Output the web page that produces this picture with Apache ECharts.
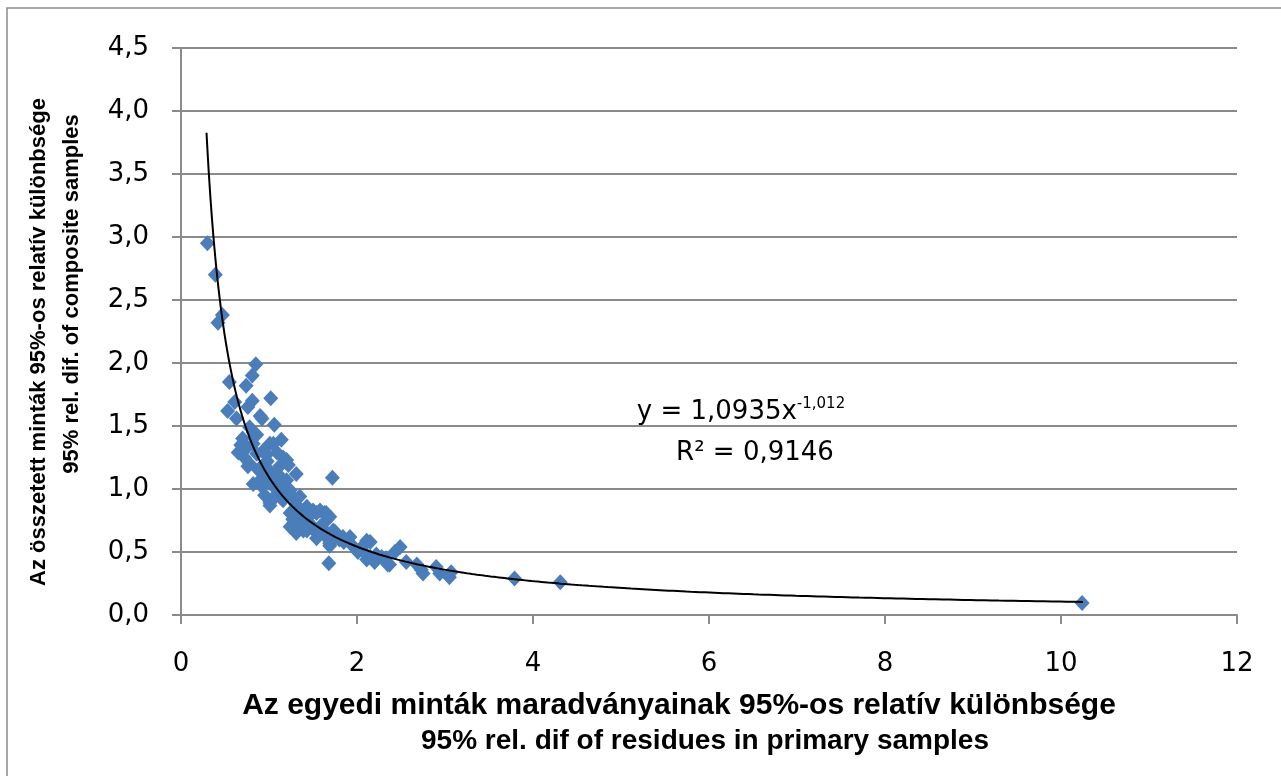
<!DOCTYPE html>
<html><head><meta charset="utf-8">
<script src="https://cdn.jsdelivr.net/npm/echarts@6/dist/echarts.min.js"></script>
<style>html,body{margin:0;padding:0;background:#fff}#c{width:1281px;height:776px}</style>
</head><body><div id="c"></div>
<script>
// Measured points: [x, y]
const pointsX = [0.30,0.39,0.47,0.42,0.85,0.81,0.55,0.74,1.02,0.61,0.81,0.53,0.76,0.63,0.92,1.06,0.82,0.78,0.90,0.86,1.14,1.01,0.65,0.75,0.86,0.97,1.09,1.20,1.12,0.78,0.92,1.31,1.01,0.82,1.72,0.90,1.05,1.20,1.01,1.12,1.24,1.35,1.24,1.39,1.54,1.65,1.24,1.43,1.58,1.73,1.92,2.11,0.82,1.05,1.16,1.22,0.76,0.92,1.01,1.16,1.43,1.58,1.69,1.35,1.46,1.31,1.54,1.75,1.84,1.50,1.63,1.54,1.77,1.69,2.15,2.01,2.22,2.33,2.49,2.56,1.68,2.11,2.68,2.07,2.15,2.20,2.37,2.73,2.90,3.05,1.65,1.69,1.65,1.39,2.43,2.35,2.28,2.75,2.94,3.07,3.79,4.31,10.24,0.88,0.95,1.00,1.08,1.10,0.98,0.93,1.15,1.18,1.28,1.30,1.33,1.27,1.40,1.48,1.45,0.70,0.72,0.68,0.95,1.05,1.40,1.62,1.80,1.95,2.05,1.85];
const pointsY = [2.95,2.70,2.38,2.32,1.99,1.90,1.85,1.82,1.72,1.69,1.70,1.62,1.65,1.56,1.56,1.51,1.45,1.49,1.58,1.43,1.39,1.36,1.29,1.33,1.28,1.27,1.29,1.23,1.18,1.20,1.18,1.12,1.14,1.04,1.09,1.07,1.07,1.07,0.89,0.94,0.99,0.94,0.81,0.83,0.81,0.81,0.70,0.67,0.70,0.67,0.62,0.59,1.36,1.36,1.25,1.19,1.18,1.02,0.87,0.91,0.86,0.83,0.78,0.70,0.73,0.65,0.65,0.66,0.62,0.83,0.81,0.61,0.62,0.55,0.58,0.50,0.48,0.45,0.54,0.42,0.41,0.44,0.40,0.55,0.46,0.42,0.40,0.36,0.38,0.30,0.62,0.57,0.75,0.67,0.50,0.40,0.46,0.33,0.33,0.34,0.29,0.26,0.095,1.15,1.10,1.05,1.00,1.12,1.22,1.30,1.05,0.97,0.93,0.88,0.80,0.76,0.75,0.70,0.78,1.40,1.25,1.35,0.95,0.93,0.72,0.68,0.60,0.55,0.52,0.58];
// Power trendline shown on chart: y = 1.0935 x^-1.012
const trendCoef = 1.0935;
const trendExp = -1.012;
const trendRange = [0.29, 10.25];
const xTicks = [0, 12, 2];
const yTicks = [0, 4.5, 0.5];

const scatterData = pointsX.map((x, i) => [x, pointsY[i]]);
const trendData = [];
for (let i = 0; i <= 400; i++) {
  const x = trendRange[0] * Math.pow(trendRange[1] / trendRange[0], i / 400);
  trendData.push([x, trendCoef * Math.pow(x, trendExp)]);
}
const tickFont = 'DejaVu Sans';
const titleFont = 'Liberation Sans';
const chart = echarts.init(document.getElementById('c'));
chart.setOption({
  animation: false,
  backgroundColor: '#fff',
  grid: {left: 181, right: 44, top: 48, bottom: 161},
  xAxis: {
    type: 'value', min: xTicks[0], max: xTicks[1], interval: xTicks[2],
    splitLine: {show: false},
    axisLine: {lineStyle: {color: '#8a8a8a', width: 2}},
    axisTick: {show: true, length: 9, lineStyle: {color: '#8a8a8a', width: 2}},
    axisLabel: {color: '#000', fontFamily: tickFont, fontSize: 26, margin: 36}
  },
  yAxis: {
    type: 'value', min: yTicks[0], max: yTicks[1], interval: yTicks[2],
    splitLine: {show: true, lineStyle: {color: '#8a8a8a', width: 2}},
    axisLine: {show: true, lineStyle: {color: '#8a8a8a', width: 2}},
    axisTick: {show: true, length: 9, lineStyle: {color: '#8a8a8a', width: 2}},
    axisLabel: {color: '#000', fontFamily: tickFont, fontSize: 26, margin: 32,
      formatter: v => v.toFixed(1).replace('.', ',')}
  },
  series: [
    {type: 'scatter', data: scatterData, symbol: 'diamond', symbolSize: [15, 16],
     itemStyle: {color: '#4A7EBB', opacity: 1}, z: 3},
    {type: 'line', data: trendData, showSymbol: false, symbol: 'none', smooth: false,
     lineStyle: {color: '#000', width: 2}, z: 4}
  ],
  graphic: [
    {type: 'rect', shape: {x: 7, y: 8, width: 1400, height: 900}, style: {fill: 'none', stroke: '#8a8a8a', lineWidth: 1.5}, silent: true},
    {type: 'text', x: 741, y: 412, style: {
      text: '{a|y = 1,0935x}{s|-1,012}', align: 'center', verticalAlign: 'middle',
      rich: {a: {fontFamily: tickFont, fontSize: 26, fill: '#000'},
             s: {fontFamily: tickFont, fontSize: 15, fill: '#000', verticalAlign: 'top', padding: [0,0,16,0]}}
    }},
    {type: 'text', x: 755, y: 453, style: {
      text: 'R² = 0,9146', align: 'center', verticalAlign: 'middle',
      fontFamily: tickFont, fontSize: 26, fill: '#000'}},
    {type: 'text', x: 39, y: 342, rotation: Math.PI / 2, style: {
      text: 'Az összetett minták 95%-os relatív különbsége', align: 'center', verticalAlign: 'middle',
      fontFamily: titleFont, fontWeight: 'bold', fontSize: 22, fill: '#000'}},
    {type: 'text', x: 72, y: 294, rotation: Math.PI / 2, style: {
      text: '95% rel. dif. of composite samples', align: 'center', verticalAlign: 'middle',
      fontFamily: titleFont, fontWeight: 'bold', fontSize: 22, fill: '#000'}},
    {type: 'text', x: 679, y: 706, style: {
      text: 'Az egyedi minták maradványainak 95%-os relatív különbsége', align: 'center', verticalAlign: 'middle',
      fontFamily: titleFont, fontWeight: 'bold', fontSize: 30, fill: '#000'}},
    {type: 'text', x: 705, y: 741, style: {
      text: '95% rel. dif of residues in primary samples', align: 'center', verticalAlign: 'middle',
      fontFamily: titleFont, fontWeight: 'bold', fontSize: 28, fill: '#000'}}
  ]
});
</script></body></html>
